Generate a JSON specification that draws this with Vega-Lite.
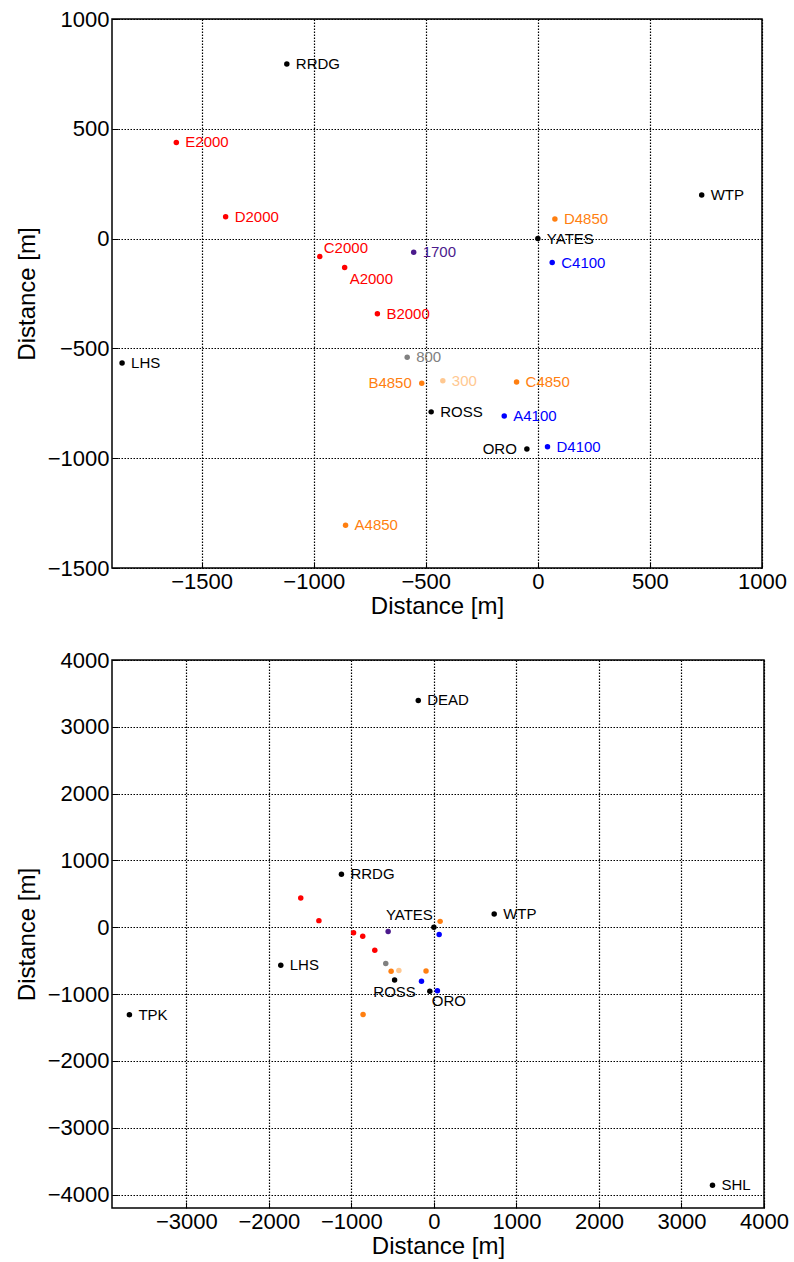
{
  "$schema": "https://vega.github.io/schema/vega-lite/v6.json",
  "padding": {"left": 14, "top": 7, "right": 5, "bottom": 0},
  "datasets": {
    "sites": [
      {"name": "RRDG", "group": "station", "x": -1120, "y": 795},
      {"name": "E2000", "group": "2000", "x": -1613, "y": 438},
      {"name": "D2000", "group": "2000", "x": -1393, "y": 100},
      {"name": "C2000", "group": "2000", "x": -973, "y": -82},
      {"name": "A2000", "group": "2000", "x": -862, "y": -132},
      {"name": "B2000", "group": "2000", "x": -716, "y": -342},
      {"name": "1700", "group": "1700", "x": -554, "y": -62},
      {"name": "800", "group": "800", "x": -583, "y": -540},
      {"name": "300", "group": "300", "x": -424, "y": -647},
      {"name": "B4850", "group": "4850", "x": -518, "y": -659},
      {"name": "C4850", "group": "4850", "x": -95, "y": -653},
      {"name": "A4850", "group": "4850", "x": -858, "y": -1305},
      {"name": "D4850", "group": "4850", "x": 76, "y": 89},
      {"name": "ROSS", "group": "station", "x": -476, "y": -789},
      {"name": "ORO", "group": "station", "x": -49, "y": -958},
      {"name": "YATES", "group": "station", "x": 0, "y": 0},
      {"name": "WTP", "group": "station", "x": 731, "y": 199},
      {"name": "LHS", "group": "station", "x": -1855, "y": -567},
      {"name": "A4100", "group": "4100", "x": -150, "y": -808},
      {"name": "C4100", "group": "4100", "x": 64, "y": -109},
      {"name": "D4100", "group": "4100", "x": 43, "y": -948},
      {"name": "DEAD", "group": "station", "x": -189, "y": 3394},
      {"name": "TPK", "group": "station", "x": -3689, "y": -1307},
      {"name": "SHL", "group": "station", "x": 3376, "y": -3860}
    ]
  },
  "config": {
    "view": {"stroke": "black", "strokeWidth": 1.5},
    "font": "Liberation Sans",
    "axis": {
      "labelFont": "Liberation Sans",
      "labelFontSize": 22,
      "labelColor": "black",
      "labelFlush": false,
      "labelOverlap": false,
      "titleFont": "Liberation Sans",
      "titleFontSize": 24,
      "titleFontWeight": "normal",
      "titleColor": "black",
      "domain": false,
      "grid": true,
      "gridColor": "black",
      "gridDash": [1.5, 1.5],
      "gridOpacity": 1,
      "gridWidth": 1.2,
      "ticks": true,
      "tickColor": "black",
      "tickSize": -6,
      "tickWidth": 1,
      "labelPadding": 9,
      "format": "d"
    },
    "axisX": {"titlePadding": 2},
    "axisY": {"titlePadding": 8},
    "text": {"font": "Liberation Sans", "fontSize": 15},
    "concat": {"spacing": 29}
  },
  "vconcat": [
    {
      "width": 650,
      "height": 549,
      "data": {"name": "sites"},
      "transform": [{"filter": {"not": {"field": "name", "oneOf": ["DEAD", "TPK", "SHL"]}}}],
      "encoding": {
        "x": {"field": "x", "type": "quantitative", "scale": {"domain": [-1900, 1000], "nice": false, "zero": false}, "axis": {"values": [-1500, -1000, -500, 0, 500, 1000], "title": "Distance [m]"}},
        "y": {"field": "y", "type": "quantitative", "scale": {"domain": [-1500, 1000], "nice": false, "zero": false}, "axis": {"values": [-1500, -1000, -500, 0, 500, 1000], "title": "Distance [m]"}},
        "color": {"field": "group", "type": "nominal", "scale": {"domain": ["station", "2000", "1700", "800", "300", "4850", "4100"], "range": ["#000000", "#ff0000", "#4b1a8c", "#808080", "#ffc891", "#ff7f10", "#0000ff"]}, "legend": null}
      },
      "layer": [
        {"mark": {"type": "circle", "size": 30, "opacity": 1}},
        {"transform": [{"filter": {"not": {"field": "name", "oneOf": ["C2000", "A2000", "B4850", "ORO"]}}}], "mark": {"type": "text", "align": "left", "baseline": "middle", "dx": 9}, "encoding": {"text": {"field": "name", "type": "nominal"}}},
        {"transform": [{"filter": {"field": "name", "equal": "C2000"}}], "mark": {"type": "text", "align": "left", "baseline": "middle", "dx": 4, "dy": -9}, "encoding": {"text": {"field": "name", "type": "nominal"}}},
        {"transform": [{"filter": {"field": "name", "equal": "A2000"}}], "mark": {"type": "text", "align": "left", "baseline": "middle", "dx": 5, "dy": 11}, "encoding": {"text": {"field": "name", "type": "nominal"}}},
        {"transform": [{"filter": {"field": "name", "oneOf": ["B4850", "ORO"]}}], "mark": {"type": "text", "align": "right", "baseline": "middle", "dx": -10}, "encoding": {"text": {"field": "name", "type": "nominal"}}}
      ]
    },
    {
      "width": 652,
      "height": 548,
      "data": {"name": "sites"},
      "encoding": {
        "x": {"field": "x", "type": "quantitative", "scale": {"domain": [-3900, 4000], "nice": false, "zero": false}, "axis": {"values": [-3000, -2000, -1000, 0, 1000, 2000, 3000, 4000], "title": "Distance [m]"}},
        "y": {"field": "y", "type": "quantitative", "scale": {"domain": [-4200, 4000], "nice": false, "zero": false}, "axis": {"values": [-4000, -3000, -2000, -1000, 0, 1000, 2000, 3000, 4000], "title": "Distance [m]"}},
        "color": {"field": "group", "type": "nominal", "legend": null}
      },
      "layer": [
        {"mark": {"type": "circle", "size": 30, "opacity": 1}},
        {"transform": [{"filter": {"field": "group", "equal": "station"}}, {"filter": {"not": {"field": "name", "oneOf": ["YATES", "ROSS", "ORO"]}}}], "mark": {"type": "text", "align": "left", "baseline": "middle", "dx": 9}, "encoding": {"text": {"field": "name", "type": "nominal"}}},
        {"transform": [{"filter": {"field": "name", "equal": "YATES"}}], "mark": {"type": "text", "align": "right", "baseline": "middle", "dx": -1, "dy": -12}, "encoding": {"text": {"field": "name", "type": "nominal"}}},
        {"transform": [{"filter": {"field": "name", "equal": "ROSS"}}], "mark": {"type": "text", "align": "center", "baseline": "middle", "dy": 12}, "encoding": {"text": {"field": "name", "type": "nominal"}}},
        {"transform": [{"filter": {"field": "name", "equal": "ORO"}}], "mark": {"type": "text", "align": "left", "baseline": "middle", "dx": 2, "dy": 10}, "encoding": {"text": {"field": "name", "type": "nominal"}}}
      ]
    }
  ]
}
